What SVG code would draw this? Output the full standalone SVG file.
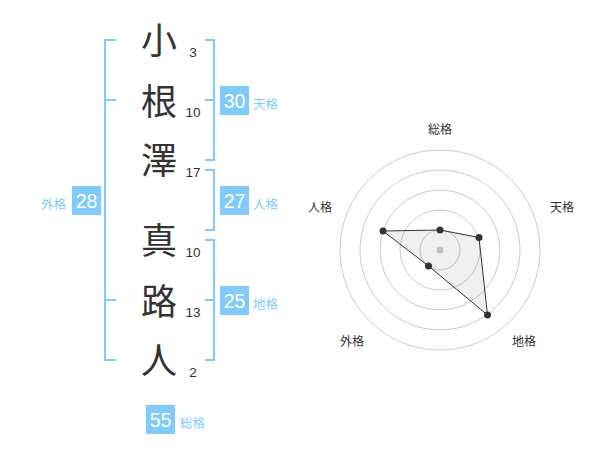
<svg xmlns="http://www.w3.org/2000/svg" width="600" height="470" viewBox="0 0 600 470">
<style>
.ch{font-family:"Noto Sans CJK JP","Noto Sans CJK SC",sans-serif;font-size:36px;fill:#333;text-anchor:middle}
.num{font-family:"Liberation Sans",Arial,sans-serif;font-size:13.5px;fill:#333;text-anchor:middle}
.br{fill:none;stroke:#80cbfa;stroke-width:2}
.box{fill:#80cbfa}
.bn{font-family:"Liberation Sans",Arial,sans-serif;font-size:19.5px;fill:#fff;text-anchor:middle}
.lb{font-family:"Noto Sans CJK JP","Noto Sans CJK SC",sans-serif;font-size:12.5px;fill:#80cbfa}
.ring{fill:none;stroke:#ccc;stroke-width:1}
.ax{font-family:"Noto Sans CJK JP","Noto Sans CJK SC",sans-serif;font-size:12px;fill:#333;text-anchor:middle}
.pt{fill:#333}
</style>
<rect width="600" height="470" fill="#fff"/>
<g id="chars">
<g id="c1"><text class="ch" x="159" y="54">小</text><text class="num" x="193" y="57">3</text></g>
<g id="c2"><text class="ch" x="159" y="115">根</text><text class="num" x="193" y="117">10</text></g>
<g id="c3"><text class="ch" x="159" y="174">澤</text><text class="num" x="193" y="177">17</text></g>
<g id="c4"><text class="ch" x="159" y="254">真</text><text class="num" x="193" y="257">10</text></g>
<g id="c5"><text class="ch" x="159" y="315">路</text><text class="num" x="193" y="317">13</text></g>
<g id="c6"><text class="ch" x="159" y="374">人</text><text class="num" x="193" y="377">2</text></g>
</g>
<g id="connectors">
<path class="br" d="M116,40 H105 V360 H116 M105,100 H116 M105,300 H116"/>
<path class="br" d="M205,40 H214 V160 H205 M205,100 H214"/>
<path class="br" d="M205,170 H214 V230 H205"/>
<path class="br" d="M205,240 H214 V360 H205 M205,300 H214"/>
</g>
<g id="tenkaku"><rect class="box" x="220" y="86" width="29" height="29"/><text class="bn" x="234.5" y="108">30</text><text class="lb" x="253" y="108.5">天格</text></g>
<g id="jinkaku"><rect class="box" x="220" y="186" width="29" height="29"/><text class="bn" x="234.5" y="208">27</text><text class="lb" x="253" y="208.5">人格</text></g>
<g id="chikaku"><rect class="box" x="220" y="286" width="29" height="29"/><text class="bn" x="234.5" y="308">25</text><text class="lb" x="253" y="308.5">地格</text></g>
<g id="gaikaku"><rect class="box" x="72" y="186" width="29" height="29"/><text class="bn" x="86.5" y="208">28</text><text class="lb" x="41" y="208.5">外格</text></g>
<g id="soukaku"><rect class="box" x="146" y="405" width="29" height="29"/><text class="bn" x="160.5" y="427">55</text><text class="lb" x="180" y="427.5">総格</text></g>
<g id="radar">
<circle class="ring" cx="440" cy="250" r="20"/>
<circle class="ring" cx="440" cy="250" r="40"/>
<circle class="ring" cx="440" cy="250" r="60"/>
<circle class="ring" cx="440" cy="250" r="80"/>
<circle class="ring" cx="440" cy="250" r="100"/>
<circle cx="440" cy="250" r="3.5" fill="#ccc"/>
<polygon points="440,230 479,237.5 487.5,315 428.5,266 383,231" fill="#000" fill-opacity="0.06" stroke="#333" stroke-width="1"/>
<circle class="pt" cx="440" cy="230" r="3.5"/>
<circle class="pt" cx="479" cy="237.5" r="3.5"/>
<circle class="pt" cx="487.5" cy="315" r="3.5"/>
<circle class="pt" cx="428.5" cy="266" r="3.5"/>
<circle class="pt" cx="383" cy="231" r="3.5"/>
<text class="ax" x="440" y="134">総格</text>
<text class="ax" x="562" y="212">天格</text>
<text class="ax" x="320" y="212">人格</text>
<text class="ax" x="352" y="346">外格</text>
<text class="ax" x="524" y="346">地格</text>
</g>
</svg>
